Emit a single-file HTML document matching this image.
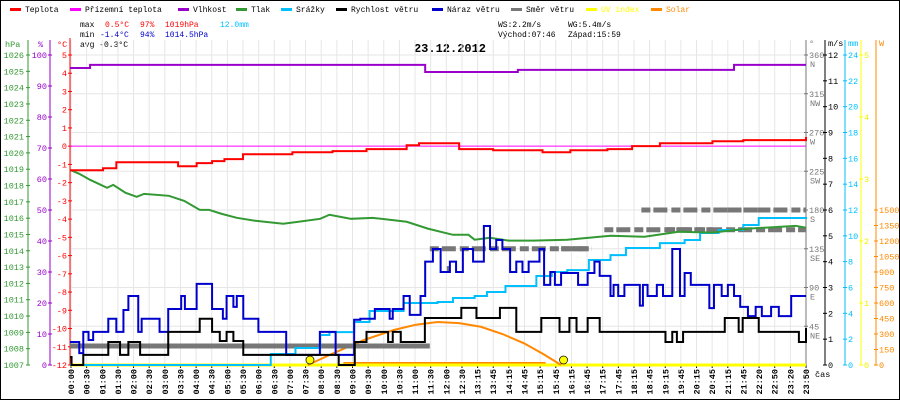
<!DOCTYPE html>
<html><head><meta charset="utf-8"><style>
html,body{margin:0;padding:0;background:#fff}
svg{display:block;font-family:"Liberation Mono",monospace}
</style></head><body>
<svg id="c" width="900" height="400" viewBox="0 0 900 400" xmlns="http://www.w3.org/2000/svg">
<rect x="0.5" y="0.5" width="899" height="399" fill="#fff" stroke="#000"/>
<g id="legend" font-size="8"></g>
<g font-size="8">
<text x="80" y="27">max</text><text x="105" y="27" fill="#f00">0.5°C</text><text x="140" y="27" fill="#f00">97%</text><text x="165" y="27" fill="#f00">1019hPa</text><text x="220" y="27" fill="#00bfff">12.0mm</text>
<text x="80" y="37">min</text><text x="100" y="37" fill="#00c">-1.4°C</text><text x="140" y="37" fill="#00c">94%</text><text x="165" y="37" fill="#00c">1014.5hPa</text>
<text x="80" y="47">avg -0.3°C</text>
<text x="498" y="27">WS:2.2m/s</text><text x="568" y="27">WG:5.4m/s</text>
<text x="498" y="37">Východ:07:46</text><text x="568" y="37">Západ:15:59</text>
</g>
<text x="450" y="52" text-anchor="middle" font-size="12" font-weight="bold">23.12.2012</text>
<g id="grid"></g>
<g id="axes" font-size="8.5"></g>
<g id="series"></g>
</svg>
<script>
const NS="http://www.w3.org/2000/svg";
// ---- data (time in hours) ----
const legendNames=["Teplota","Přízemní teplota","Vlhkost","Tlak","Srážky","Rychlost větru","Náraz větru","Směr větru","UV index","Solar"];
const tempT=[0,1.07,1.5,3.2,3.5,4.1,4.6,5.0,5.6,7.2,8.1,8.5,9.6,10.9,11.3,12.3,12.6,13.7,15.3,15.9,16.2,17.4,18.2,19.1,20.8,21.8,23.83];
const tempV=[-1.32,-1.21,-0.88,-0.88,-1.1,-0.93,-0.82,-0.71,-0.44,-0.33,-0.33,-0.27,-0.16,0.05,0.16,0.16,-0.16,-0.22,-0.33,-0.33,-0.22,-0.16,0,0.16,0.27,0.33,0.5];
const feelT=[0,23.83];
const feelV=[0,0];
const humT=[0,0.6,0.65,10.8,11.5,14.0,14.5,21.0,21.5,23.83];
const humV=[95.8,95.8,96.8,96.8,94.5,94.5,95.2,95.2,96.8,96.8];
const presT=[0,0.3,0.65,1.2,1.4,1.8,2.16,2.4,3.2,3.7,4.2,4.5,4.9,5.4,6.0,6.9,7.4,8.1,8.4,9.1,9.8,10.9,11.6,12.4,12.9,13.1,13.6,14.2,15.0,16.1,17.5,18.6,19.7,20.8,21.9,23.5,23.83];
const presV=[1018.96,1018.72,1018.35,1017.86,1018.04,1017.55,1017.31,1017.49,1017.37,1017.06,1016.51,1016.51,1016.27,1016.02,1015.84,1015.66,1015.78,1015.96,1016.21,1015.96,1016.02,1015.78,1015.35,1014.98,1014.98,1014.68,1014.8,1014.62,1014.62,1014.68,1014.92,1014.86,1015.17,1015.11,1015.35,1015.53,1015.41];
const windT=[0,0.05,0.43,1.24,1.62,1.89,2.27,3.18,4.2,4.6,4.85,5.07,5.29,5.61,6.04,8.09,8.7,9.22,9.6,9.87,10.3,10.45,10.71,11.49,12.67,13.16,13.92,14.45,15.26,15.85,16.0,16.17,16.4,16.76,17.15,17.5,19.28,19.5,19.65,19.85,21.2,21.65,21.78,22.3,23.6,23.83];
const windV=[0.31,0,0.39,0.89,0.39,0.89,0.39,1.28,1.79,1.28,0.93,1.28,0.93,0.39,0.39,0.39,0,0.89,1.28,1.28,0.89,1.28,0.89,1.82,2.21,1.82,2.21,1.28,1.82,1.28,1.28,1.82,1.28,1.82,1.28,1.28,0.89,1.28,0.89,1.28,1.82,1.28,1.82,1.28,0.89,1.43];
const gustT=[0,0.3,0.43,0.6,0.75,1.24,1.5,1.73,1.89,2.21,2.32,2.9,3.18,3.6,3.72,4.1,4.6,4.95,5.07,5.29,5.4,5.61,5.94,6.1,6.74,7.0,7.87,8.09,8.6,9.2,9.4,9.87,10.35,10.45,10.8,11.0,11.35,11.5,11.75,12.0,12.3,12.5,12.72,13.05,13.4,13.6,13.8,14.0,14.25,14.45,14.65,14.85,15.2,15.35,15.55,15.7,15.9,16.3,16.45,16.76,16.98,17.15,17.5,17.6,17.75,17.95,18.45,18.55,18.7,19.0,19.2,19.5,19.75,19.9,20.1,20.55,20.7,20.85,21.1,21.3,21.5,21.7,21.95,22.2,22.4,22.7,22.95,23.35,23.83];
const gustV=[0.89,0.46,1.28,0.97,1.28,1.79,1.28,2.13,2.67,1.28,1.79,1.28,2.17,2.67,2.17,3.14,2.17,1.79,2.67,2.25,2.67,1.79,1.79,1.28,1.28,0.39,0.39,1.28,0.39,1.75,1.79,2.17,1.79,2.17,2.67,1.94,2.67,4.0,4.49,3.6,4.0,3.6,4.49,4.0,5.38,4.49,4.84,4.49,3.6,4.0,3.6,4.0,4.49,3.1,3.6,3.1,3.56,3.56,3.1,3.56,4.0,3.45,2.67,3.1,2.67,3.1,2.3,3.1,2.67,3.1,2.67,4.49,2.67,3.56,3.1,3.1,2.2,3.1,2.67,3.1,2.67,2.25,1.89,2.25,1.89,2.25,1.89,2.67,2.67];
const rainT=[0,5.8,6.5,7.3,8.1,8.4,9.2,9.7,10.8,11.9,12.4,13.1,13.5,14.1,15.1,15.6,16.1,16.8,17.5,18.0,19.1,19.9,20.4,21.0,21.8,22.3,23.83];
const rainV=[0,0,0.85,1.32,2.32,2.55,3.33,4.18,4.8,4.88,5.19,5.34,5.65,6.12,6.89,7.2,7.35,8.13,8.51,9.06,9.44,9.68,10.22,10.45,10.84,11.38,11.46];
const dirStart=[0,11.65,12.2,15.9,16.4,17.3,18.5,19.3,20.9];
const dirEnd=[11.65,16.9,12.3,16.75,16.55,20.8,23.83,23.83,22.4];
const dirDeg=[22,135,112,135,135,157,180,157,180];
const dirDash=[0,1,0,1,0,1,1,1,1];
const solarT=[7.7,8.5,9.5,10.5,11.2,11.9,12.6,13.3,14.0,14.7,15.3,15.9];
const solarV=[0,110,240,340,390,416,405,370,300,210,110,0];
const uvT=[0,23.83];
const uvV=[0,0];
const sunEvents=[7.77,15.98];
const timeLabels=["00:00","00:30","01:00","01:30","02:00","02:30","03:00","03:30","04:00","04:30","05:00","05:30","06:00","06:30","07:00","07:30","08:00","08:30","09:00","09:30","10:00","10:30","11:00","11:30","12:00","12:30","13:15","13:45","14:15","14:45","15:15","15:45","16:15","16:45","17:15","17:45","18:15","18:45","19:15","19:45","20:15","20:45","21:15","21:45","22:20","22:50","23:20","23:50"];
const hpaTicks=[1007,1008,1009,1010,1011,1012,1013,1014,1015,1016,1017,1018,1019,1020,1021,1022,1023,1024,1025,1026];
const humTicks=[0,10,20,30,40,50,60,70,80,90,100];
const tempTicks=[-12,-11,-10,-9,-8,-7,-6,-5,-4,-3,-2,-1,0,1,2,3,4,5];
const degTicks=[[45,"NE"],[90,"E"],[135,"SE"],[180,"S"],[225,"SW"],[270,"W"],[315,"NW"],[360,"N"]];
const msTicks=[0,1,2,3,4,5,6,7,8,9,10,11,12];
const mmTicks=[0,2,4,6,8,10,12,14,16,18,20,22,24];
const uvTicks=[0,1,2,3,4,5];
const wTicks=[0,150,300,450,600,750,900,1050,1200,1350,1500];
// ---- scales ----
const X0=70,X1=806,Y0=55,Y1=365,TMAX=23.83;
const x=t=>X0+(X1-X0)*t/TMAX;
const yT=v=>Y1-(v+12)*(Y1-Y0)/17;
const yH=v=>Y1-v*(Y1-Y0)/100;
const yP=v=>Y1-(v-1007)*(Y1-Y0)/19;
const yM=v=>Y1-v*(Y1-Y0)/12;
const yR=v=>Y1-v*(Y1-Y0)/24;
const yD=v=>Y1-v*(Y1-Y0)/360;
const yU=v=>Y1-v*(Y1-Y0)/5;
const yW=v=>Y1-v*(Y1-Y0)/3000;
function mk(tag,attrs,parent,txt){const e=document.createElementNS(NS,tag);for(const k in attrs)e.setAttribute(k,attrs[k]);if(txt!==undefined)e.textContent=txt;parent.appendChild(e);return e;}
const G=document.getElementById('grid'),A=document.getElementById('axes'),S=document.getElementById('series'),L=document.getElementById('legend');
const legCols=["#f00","#f0f","#90c","#393","#00bfff","#000","#00c","#777","#ff0","#f80"];
const legX=[10,70,178,236,281,336,432,511,586,651];
legendNames.forEach((n,i)=>{
 const g=mk('g',{},L);
 
 
 mk('rect',{x:legX[i],y:8,width:11,height:3,fill:legCols[i]},g);
 mk('text',{x:legX[i]+15,y:12,fill:i==8?"#ff0":(i==9?"#f80":"#000")},g,n);
});
for(let i=0;i<timeLabels.length;i++){const gx=71+i*(X1-71)/47;const l=mk('line',{x1:gx,x2:gx,y1:Y0-15,y2:Y1,stroke:"#e6e6e6"},G);}
for(let d=0;d<=360;d+=45){const l=mk('line',{x1:X0,x2:X1,y1:yD(d),y2:yD(d),stroke:"#e6e6e6"},G);}
function vaxis(ax,col,y1){mk('line',{x1:ax,x2:ax,y1:y1,y2:Y1,stroke:col},A);}
vaxis(28,"#393",40);vaxis(50,"#90c",40);vaxis(70,"#f00",38);
mk('text',{x:5,y:47,fill:"#393"},A,"hPa");mk('text',{x:38,y:47,fill:"#90c"},A,"%");mk('text',{x:57,y:47,fill:"#f00"},A,"°C");
hpaTicks.forEach(v=>{const y=yP(v);mk('line',{x1:26,x2:30,y1:y,y2:y,stroke:"#393"},A);const t=mk('text',{x:24,y:y+3,fill:"#393","text-anchor":"end"},A,v);});
humTicks.forEach(v=>{const y=yH(v);mk('line',{x1:48,x2:52,y1:y,y2:y,stroke:"#90c"},A);const t=mk('text',{x:47,y:y+3,fill:"#90c","text-anchor":"end"},A,v);});
tempTicks.forEach(v=>{const y=yT(v);mk('line',{x1:68,x2:72,y1:y,y2:y,stroke:"#f00"},A);const t=mk('text',{x:67,y:y+3,fill:"#f00","text-anchor":"end"},A,v);});
vaxis(806,"#777",40);vaxis(825,"#000",40);vaxis(845,"#00bfff",40);vaxis(861,"#ff0",40);vaxis(876,"#f80",40);
mk('text',{x:809,y:46,fill:"#777"},A,"°");mk('text',{x:828,y:46},A,"m/s");mk('text',{x:848,y:46,fill:"#00bfff"},A,"mm");mk('text',{x:879,y:46,fill:"#f80"},A,"W");
degTicks.forEach(d=>{const y=yD(d[0]);mk('line',{x1:804,x2:808,y1:y,y2:y,stroke:"#777"},A);const t=mk('text',{x:809,y:y+3,fill:"#777"},A,d[0]);mk('text',{x:810,y:y+12,fill:"#777"},A,d[1]);});
msTicks.forEach(v=>{const y=yM(v);mk('line',{x1:823,x2:827,y1:y,y2:y,stroke:"#000"},A);const t=mk('text',{x:828,y:y+3},A,v);});
mmTicks.forEach(v=>{const y=yR(v);mk('line',{x1:843,x2:847,y1:y,y2:y,stroke:"#00bfff"},A);const t=mk('text',{x:848,y:y+3,fill:"#00bfff"},A,v);});
uvTicks.forEach(v=>{const y=yU(v);mk('line',{x1:859,x2:863,y1:y,y2:y,stroke:"#ff0"},A);const t=mk('text',{x:864,y:y+3,fill:"#ee0"},A,v);});
wTicks.forEach(v=>{const y=yW(v);mk('line',{x1:874,x2:878,y1:y,y2:y,stroke:"#f80"},A);const t=mk('text',{x:879,y:y+3,fill:"#f80"},A,v);});
mk('line',{x1:X0,x2:X1,y1:Y1,y2:Y1,stroke:"#000"},A);
timeLabels.forEach((s,i)=>{const gx=71+i*(X1-71)/47;mk('line',{x1:gx,x2:gx,y1:Y1,y2:Y1+3,stroke:"#000"},A);const t=mk('text',{x:0,y:0,transform:`translate(${gx+3},369) rotate(-90)`,"text-anchor":"end","font-size":"8.5","font-weight":"bold"},A,s);});
mk('text',{x:815,y:377},A,"čas");
function line(T,V,fy,col,w,step,name){let d="";T.forEach((t,i)=>{const px=x(t),py=fy(V[i]);if(i==0)d+=`M${px},${py}`;else if(step)d+=`H${px}V${py}`;else d+=`L${px},${py}`;});const p=mk('path',{d:d,fill:"none",stroke:col,"stroke-width":w},S);return p;}
const band=mk('rect',{x:x(8.85),y:Y1-3,width:x(15.4)-x(8.85),height:3,fill:"#f80"},S);

line(uvT,uvV,yU,"#ff0",3,false,'uv-index-line');
line(solarT,solarV,yW,"#f80",2,false,'solar-line');
dirStart.forEach((s,i)=>{const p=mk('line',{x1:x(s),x2:x(dirEnd[i]),y1:yD(dirDeg[i]),y2:yD(dirDeg[i]),stroke:"#777","stroke-width":5,"stroke-dasharray":dirDash[i]?"9 3 14 4":"none"},S);});
line(rainT,rainV,yR,"#00bfff",2,true,'rain-line');
line(presT,presV,yP,"#393",2,false,'pressure-line');
line(humT,humV,yH,"#90c",2,true,'humidity-line');
line(feelT,feelV,yT,"#f0f",1,false,'apparent-temp-line');
line(tempT,tempV,yT,"#f00",2,true,'temperature-line');
line(gustT,gustV,yM,"#00c",2,true,'gust-line');
line(windT,windV,yM,"#000",2,true,'wind-speed-line');
sunEvents.forEach(t=>{const c=mk('circle',{cx:x(t),cy:Y1-5,r:4,fill:"#ff0",stroke:"#000","stroke-width":0.7},S);});
</script>
</body></html>
